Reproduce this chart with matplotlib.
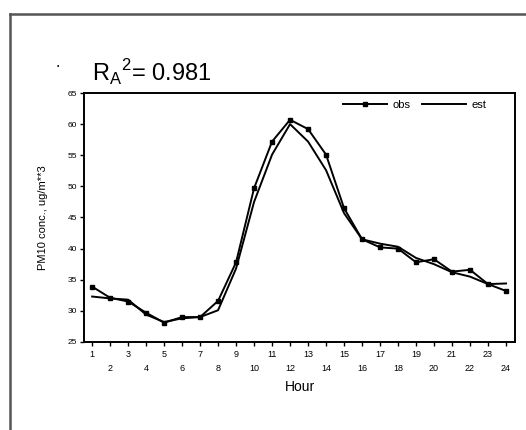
import numpy as np
import matplotlib
matplotlib.use("Agg")
import matplotlib.pyplot as plt
from matplotlib.lines import Line2D

plt.rcParams["font.family"] = ["Liberation Sans", "DejaVu Sans"]

# hourly PM10, observed vs. estimated
hours = np.arange(1, 25)
obs = [33.9, 32.1, 31.5, 29.7, 28.1, 29.0, 29.0, 31.6, 37.8, 49.7, 57.2, 60.7,
       59.2, 55.1, 46.5, 41.5, 40.2, 40.0, 37.8, 38.3, 36.3, 36.6, 34.3, 33.2]
est = [32.3, 32.0, 31.8, 29.4, 28.2, 28.8, 29.0, 30.1, 36.8, 47.5, 55.1, 60.0,
       57.2, 52.6, 45.7, 41.5, 40.8, 40.3, 38.5, 37.5, 36.2, 35.5, 34.3, 34.4]
r2_adj = 0.981


def draw(fig):
    ax = fig.add_axes([0.1597, 0.2047, 0.8194, 0.579])

    ax.plot(hours, obs, color="black", lw=1.4, marker="s", ms=3.0, label="obs")
    ax.plot(hours, est, color="black", lw=1.4, label="est")

    ax.set_xlim(0.55, 24.5)
    ax.set_ylim(25, 65)
    ax.set_yticks(np.arange(25, 66, 5))

    # odd hours on the first row, even hours on a second, lower row
    ax.set_xticks(hours[::2])
    ax.set_xticks(hours[1::2], minor=True)
    ax.set_xticklabels([str(h) for h in hours[::2]])
    ax.set_xticklabels([str(h) for h in hours[1::2]], minor=True)
    ax.tick_params(axis="x", which="major", length=3, width=1, pad=3, labelsize=6.5)
    ax.tick_params(axis="x", which="minor", length=3, width=1, pad=13, labelsize=6.5)
    ax.tick_params(axis="y", length=3, width=1, pad=2, labelsize=6)

    for side in ax.spines.values():
        side.set_linewidth(1.4)

    ax.set_xlabel("Hour", fontsize=10, labelpad=5)
    ax.set_ylabel("PM10 conc., ug/m**3", fontsize=8)
    ax.yaxis.set_label_coords(-0.083, 0.5)

    ax.legend(loc="upper right", bbox_to_anchor=(0.95, 1.0), borderaxespad=0.2,
              frameon=False, ncol=2, fontsize=8, handlelength=4.0,
              handletextpad=0.5, columnspacing=1.0)

    fig.text(0.175, 0.81,
             r"R$_\mathregular{A}$$^\mathregular{2}$= " + f"{r2_adj:.3f}",
             fontsize=17, ha="left", va="baseline")
    fig.text(0.11, 0.845, "•", fontsize=5, ha="center", va="center")

    # outer frame around the panel
    fig.add_artist(Line2D([0.019, 0.019], [0.0, 0.9674], color="#555555", lw=1.8))
    fig.add_artist(Line2D([0.019, 1.0], [0.9674, 0.9674], color="#555555", lw=1.8))


fig = plt.figure(figsize=(5.26, 4.30), dpi=100)
draw(fig)
fig.savefig("out.png", dpi=100)
